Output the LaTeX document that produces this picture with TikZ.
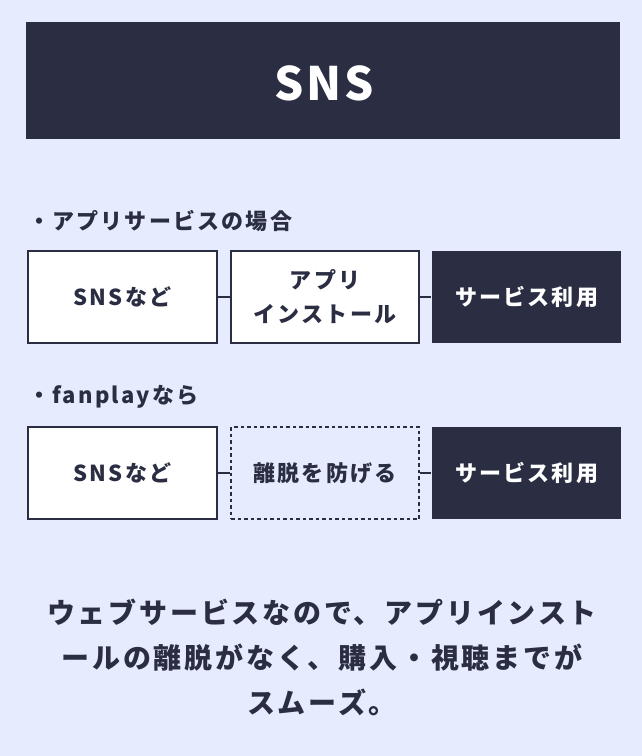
\documentclass[tikz,border=0pt]{standalone}
\usepackage{fontspec}
\setmainfont{Noto Sans CJK JP}
\definecolor{bg}{HTML}{E6EBFE}
\definecolor{dark}{HTML}{2B2D43}
\begin{document}
\begin{tikzpicture}[x=1pt,y=-1pt,
  jtxt/.style={font=\fontsize{22}{34}\selectfont\bfseries\addfontfeatures{LetterSpace=10}, align=center, inner sep=0pt},
  boxbase/.style={minimum width=189pt, minimum height=92pt, line width=1.3pt, jtxt},
  wbox/.style={boxbase, draw=dark, fill=white, text=dark},
  dbox/.style={boxbase, fill=dark, text=white},
  dashbox/.style={boxbase, draw=dark, dash pattern=on 3.5pt off 3pt, text=dark},
  conn/.style={draw=dark, line width=1.5pt},
  lbl/.style={jtxt, text=dark, anchor=west}]
\fill[bg] (0,0) rectangle (642,756);
\useasboundingbox (0,0) rectangle (642,756);
% title
\node[fill=dark, minimum width=594pt, minimum height=117pt, inner sep=0pt] (title) at (323,80.5) {};
\node[text=white, inner sep=0pt, font=\fontsize{46}{50}\selectfont\bfseries\addfontfeatures{LetterSpace=6}] (titletext) at (324,83) {SNS};
% section 1
\node[lbl] (l1) at (28,221) {・アプリサービスの場合};
\node[wbox] (a1) at (122.5,297) {SNSなど};
\node[wbox, minimum width=188pt] (a2) at (325,297) {アプリ\\インストール};
\node[dbox] (a3) at (526.5,297) {サービス利用};
\draw[conn] (a1.east) -- (a2.west);
\draw[conn] (a2.east) -- (a3.west);
% section 2
\node[lbl] (l2) at (28,397) {・fanplayなら};
\node[wbox] (b1) at (122.5,473) {SNSなど};
\node[dashbox, minimum width=188pt] (b2) at (325,473) {離脱を防げる};
\node[dbox] (b3) at (526.5,473) {サービス利用};
\draw[conn] (b1.east) -- (b2.west);
\draw[conn] (b2.east) -- (b3.west);
% bottom text
\node[font=\fontsize{28}{45}\selectfont\bfseries\addfontfeatures{LetterSpace=10}, text=dark, align=center, inner sep=0pt] (summary) at (322,657)
  {ウェブサービスなので、アプリインスト\\ールの離脱がなく、購入・視聴までが\\スムーズ。};
\end{tikzpicture}
\end{document}
